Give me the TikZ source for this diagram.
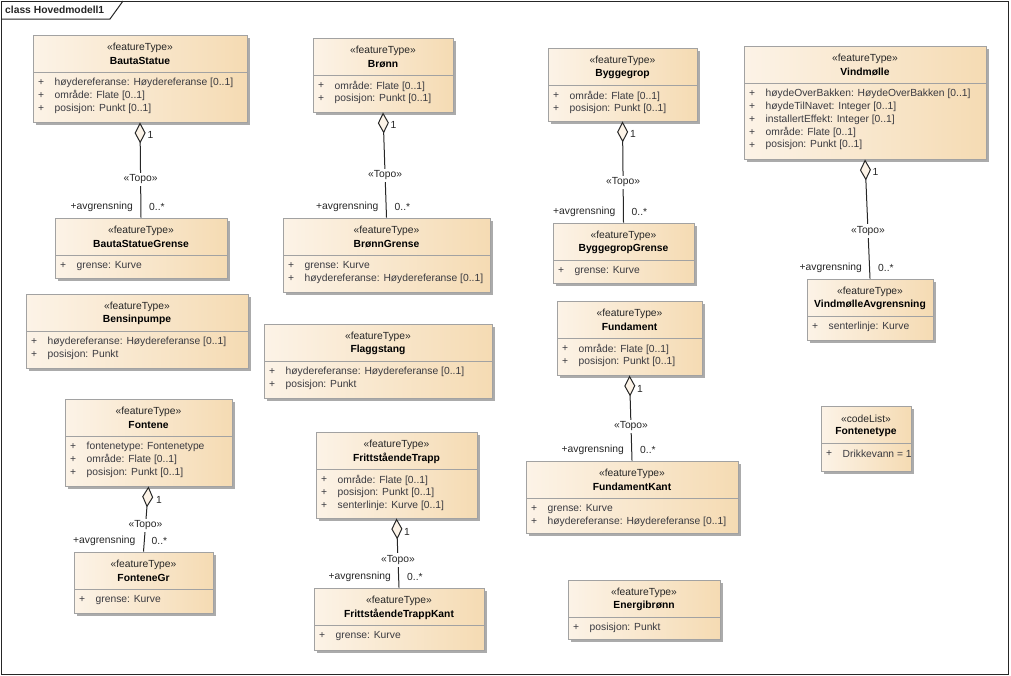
\documentclass[tikz,border=0pt]{standalone}
\usepackage{fontspec}
\setmainfont{Liberation Sans}
\usetikzlibrary{arrows.meta,shadows}

\definecolor{boxleft}{HTML}{FCF3E7}
\definecolor{boxright}{HTML}{F5DBB3}
\definecolor{boxline}{HTML}{A2A2A2}
\definecolor{boxshadow}{HTML}{ABABAB}
\definecolor{attrtext}{HTML}{3A3A40}

\tikzset{
  every node/.style={font=\fontsize{10.3}{12}\selectfont},
  classbox/.style={draw=boxline, line width=0.9pt, left color=boxleft, right color=boxright,
    inner sep=0pt, drop shadow={shadow xshift=3pt, shadow yshift=-3pt, fill=boxshadow, opacity=1}},
  classline/.style={draw=boxline, line width=0.9pt},
  stereo/.style={inner sep=0pt, text=black!85},
  cname/.style={inner sep=0pt, font=\fontsize{10.3}{12}\selectfont\bfseries},
  attr/.style={inner sep=0pt, anchor=west, text=attrtext},
  topo/.style={draw=black!85, line width=1pt, {Diamond[length=21pt, width=11pt, fill=boxleft]}-},
  topolbl/.style={pos=0.6, fill=white, inner sep=2pt, text=black!85},
  lbl/.style={inner sep=0pt, text=black!85},
}

% one UML class: name, left, top, right, bottom, stereotype, title, attributes
\newcommand{\umlclass}[8]{%
  \node[classbox, minimum width={#4-#2}, minimum height={#5-#3}] (#1) at ({(#2+#4)/2},{(#3+#5)/2}) {};
  \draw[classline] (#2,#3+37) -- (#4,#3+37);
  \node[stereo] (#1-st) at ({(#2+#4)/2},#3+13) {«#6»};
  \node[cname] (#1-nm) at ({(#2+#4)/2},#3+26) {#7};
  \foreach \att [count=\k from 0] in {#8} {
    \node[attr] (#1-p\k) at (#2+5,#3+48+12.8*\k) {+};
    \node[attr] (#1-a\k) at (#2+21.5,#3+48+12.8*\k) {\att};
  }%
}

\begin{document}
\begin{tikzpicture}[x=1pt,y=-1pt]
  \useasboundingbox (0,0) rectangle (1011,675);

  % Frame
  \draw[black!85, line width=1pt] (1,1) rectangle (1008,674);
  \draw[black!85, line width=1pt] (1,19) -- (110,19) -- (123,1);
  \node[lbl, anchor=west, font=\fontsize{10.3}{12}\selectfont\bfseries] (frame) at (5,10) {class Hovedmodell1};

  % Classes
  \umlclass{bauta}{33}{35}{247}{122}{featureType}{BautaStatue}
    {{høydereferanse: Høydereferanse [0..1]},{område: Flate [0..1]},{posisjon: Punkt [0..1]}}
  \umlclass{bautaG}{55}{218}{227}{278}{featureType}{BautaStatueGrense}
    {{grense: Kurve}}
  \umlclass{bronn}{313}{38}{453}{112}{featureType}{Brønn}
    {{område: Flate [0..1]},{posisjon: Punkt [0..1]}}
  \umlclass{bronnG}{283}{218}{490}{292}{featureType}{BrønnGrense}
    {{grense: Kurve},{høydereferanse: Høydereferanse [0..1]}}
  \umlclass{bygg}{548}{48}{697}{121}{featureType}{Byggegrop}
    {{område: Flate [0..1]},{posisjon: Punkt [0..1]}}
  \umlclass{byggG}{553}{223}{694}{283}{featureType}{ByggegropGrense}
    {{grense: Kurve}}
  \umlclass{vind}{744}{46}{986}{159}{featureType}{Vindmølle}
    {{høydeOverBakken: HøydeOverBakken [0..1]},{høydeTilNavet: Integer [0..1]},{installertEffekt: Integer [0..1]},{område: Flate [0..1]},{posisjon: Punkt [0..1]}}
  \umlclass{vindA}{807}{279}{933}{340}{featureType}{VindmølleAvgrensning}
    {{senterlinje: Kurve}}
  \umlclass{bensin}{26}{294}{248}{368}{featureType}{Bensinpumpe}
    {{høydereferanse: Høydereferanse [0..1]},{posisjon: Punkt}}
  \umlclass{flagg}{264}{324}{492}{398}{featureType}{Flaggstang}
    {{høydereferanse: Høydereferanse [0..1]},{posisjon: Punkt}}
  \umlclass{fund}{557}{301}{702}{375}{featureType}{Fundament}
    {{område: Flate [0..1]},{posisjon: Punkt [0..1]}}
  \umlclass{fundK}{526}{461}{738}{533}{featureType}{FundamentKant}
    {{grense: Kurve},{høydereferanse: Høydereferanse [0..1]}}
  \umlclass{fontene}{65}{399}{232}{486}{featureType}{Fontene}
    {{fontenetype: Fontenetype},{område: Flate [0..1]},{posisjon: Punkt [0..1]}}
  \umlclass{fonteneG}{74}{552}{213}{613}{featureType}{FonteneGr}
    {{grense: Kurve}}
  \umlclass{trapp}{316}{432}{477}{518}{featureType}{FrittståendeTrapp}
    {{område: Flate [0..1]},{posisjon: Punkt [0..1]},{senterlinje: Kurve [0..1]}}
  \umlclass{trappK}{314}{588}{484}{650}{featureType}{FrittståendeTrappKant}
    {{grense: Kurve}}
  \umlclass{energi}{568}{580}{720}{639}{featureType}{Energibrønn}
    {{posisjon: Punkt}}
  \umlclass{ftype}{821}{406}{911}{471}{codeList}{Fontenetype}
    {{Drikkevann = 1}}

  % Topo aggregations
  \foreach \whole/\part in {bauta/bautaG, bronn/bronnG, bygg/byggG, vind/vindA,
                            fontene/fonteneG, trapp/trappK, fund/fundK} {
    \draw[topo] (\whole.south) -- node[topolbl] (\part-topo) {«Topo»} (\part.north);
    \node[lbl, anchor=west] (\whole-one) at ([shift={(7.5,13)}]\whole.south) {1};
    \node[lbl, anchor=east] (\part-role) at ([shift={(-8,-11)}]\part.north) {+avgrensning};
    \node[lbl, anchor=west] (\part-many) at ([shift={(8,-11)}]\part.north) {0..*};
  }
\end{tikzpicture}
\end{document}
